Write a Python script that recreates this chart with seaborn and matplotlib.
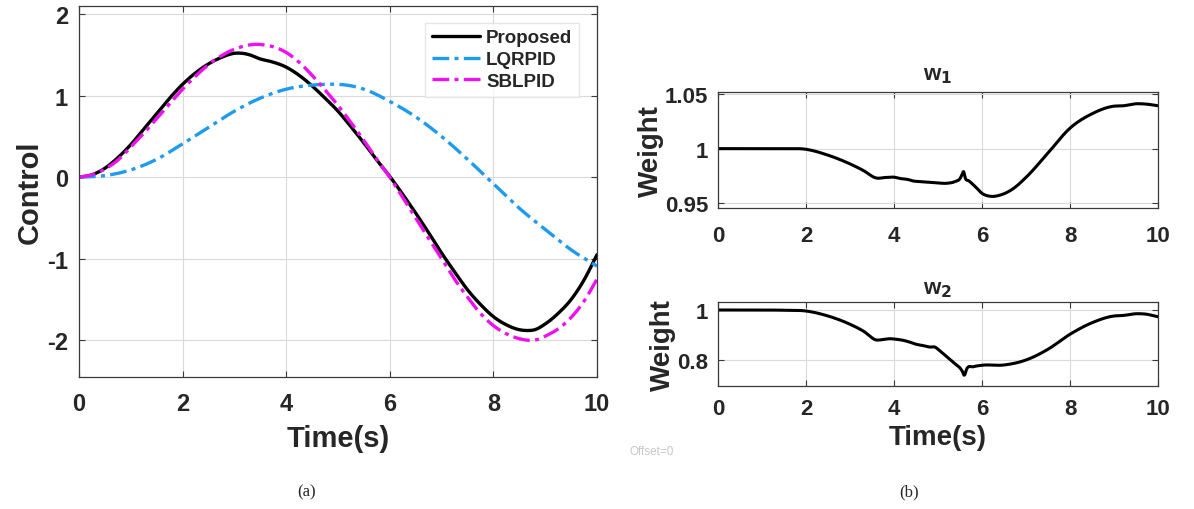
import numpy as np
import pandas as pd
import matplotlib
matplotlib.use("Agg")
import matplotlib.pyplot as plt
import seaborn as sns

# ---- control signals (left panel) ----
t_proposed = [0, 0.25, 0.5, 0.75, 1.0, 1.25, 1.5, 1.75, 2.0, 2.25, 2.5, 2.75, 3.0, 3.15, 3.3, 3.5, 3.7,
              4.0, 4.25, 4.5, 4.75, 5.0, 5.25, 5.5, 5.75, 6.0, 6.25, 6.5, 6.75, 7.0, 7.25, 7.5, 7.75,
              8.0, 8.25, 8.5, 8.65, 8.8, 9.0, 9.25, 9.5, 9.75, 10.0]
u_proposed = [0, 0.03, 0.11, 0.24, 0.40, 0.59, 0.78, 0.97, 1.14, 1.28, 1.39, 1.47, 1.52, 1.52, 1.50, 1.45, 1.42,
              1.35, 1.25, 1.12, 0.97, 0.81, 0.62, 0.42, 0.21, 0.01, -0.21, -0.44, -0.68, -0.93, -1.16, -1.38, -1.56,
              -1.71, -1.81, -1.87, -1.88, -1.87, -1.80, -1.67, -1.50, -1.26, -0.95]

t_lqr = [0, 0.5, 1.0, 1.5, 2.0, 2.5, 3.0, 3.5, 4.0, 4.5, 4.8, 5.0, 5.5, 6.0, 6.5, 7.0, 7.5,
         8.0, 8.5, 9.0, 9.5, 10.0]
u_lqr = [0, 0.02, 0.09, 0.22, 0.41, 0.61, 0.81, 0.97, 1.08, 1.13, 1.14, 1.14, 1.08, 0.93, 0.74, 0.50, 0.22,
         -0.08, -0.38, -0.64, -0.89, -1.09]

t_sbl = [0, 0.25, 0.5, 0.75, 1.0, 1.25, 1.5, 1.75, 2.0, 2.25, 2.5, 2.75, 3.0, 3.2, 3.4, 3.6, 3.8,
         4.0, 4.25, 4.5, 4.75, 5.0, 5.25, 5.5, 5.75, 6.0, 6.25, 6.5, 6.75, 7.0, 7.25, 7.5, 7.75,
         8.0, 8.25, 8.5, 8.7, 8.9, 9.0, 9.25, 9.5, 9.75, 10.0]
u_sbl = [0, 0.03, 0.10, 0.21, 0.37, 0.54, 0.72, 0.90, 1.08, 1.24, 1.38, 1.49, 1.57, 1.61, 1.63, 1.62, 1.59,
         1.53, 1.41, 1.25, 1.07, 0.88, 0.67, 0.45, 0.22, 0.0, -0.25, -0.50, -0.75, -1.0, -1.25, -1.47, -1.67,
         -1.82, -1.92, -1.98, -2.0, -1.98, -1.95, -1.86, -1.72, -1.52, -1.25]

# ---- adaptive weights (right panels) ----
t_w1 = [0, 0.5, 1.0, 1.5, 2.0, 2.5, 3.0, 3.3, 3.6, 3.8, 4.0, 4.15, 4.3, 4.45, 4.6, 4.8, 5.0, 5.2, 5.4,
        5.5, 5.55, 5.58, 5.62, 5.7, 5.85, 6.0, 6.2, 6.4, 6.7, 7.0, 7.5, 8.0, 8.5, 9.0, 9.2, 9.5, 9.7, 10.0]
w1 = [1.0, 1.0, 1.0, 1.0, 0.9994, 0.994, 0.986, 0.980, 0.9730, 0.9735, 0.9738, 0.9725, 0.9718, 0.9702,
      0.9698, 0.9692, 0.9685, 0.9682, 0.9700, 0.9725, 0.9765, 0.9790, 0.9730, 0.9705, 0.9650, 0.9590,
      0.9562, 0.9572, 0.9630, 0.9736, 0.9960, 1.0188, 1.0320, 1.0390, 1.0393, 1.0412, 1.0410, 1.0394]

t_w2 = [0, 0.5, 1.0, 1.5, 2.0, 2.5, 3.0, 3.3, 3.6, 3.75, 3.9, 4.05, 4.2, 4.35, 4.5, 4.65, 4.8, 4.95,
        5.0, 5.2, 5.4, 5.5, 5.55, 5.6, 5.65, 5.8, 6.0, 6.5, 7.0, 7.5, 8.0, 8.5, 9.0, 9.2, 9.5, 9.7, 10.0]
w2 = [1.0, 1.0, 1.0, 0.999, 0.996, 0.976, 0.943, 0.916, 0.880, 0.882, 0.885, 0.883, 0.879, 0.872, 0.863,
      0.858, 0.852, 0.850, 0.843, 0.813, 0.783, 0.768, 0.756, 0.739, 0.763, 0.773, 0.779, 0.780, 0.800,
      0.843, 0.903, 0.949, 0.976, 0.978, 0.985, 0.984, 0.973]

ctrl_labels = ["Proposed", "LQRPID", "SBLPID"]
c_black = "#000000"
c_blue = "#1E9BEF"
c_mag = "#EE10EE"

sns.set_style("ticks")
plt.rcParams["font.family"] = ["Liberation Sans", "DejaVu Sans"]
plt.rcParams["font.weight"] = "bold"
plt.rcParams["axes.labelweight"] = "bold"
plt.rcParams["axes.unicode_minus"] = False

W, H = 1194, 510
fig = plt.figure(figsize=(W / 100, H / 100), dpi=100)


def frac_axes(x0, x1, y0, y1):
    return fig.add_axes([x0 / W, 1 - y1 / H, (x1 - x0) / W, (y1 - y0) / H])


def hermite(x, y, n=500):
    """Smooth cubic Hermite curve through the sampled points."""
    x = np.asarray(x, float)
    y = np.asarray(y, float)
    tt = np.linspace(x.min(), x.max(), n)
    m = np.gradient(y, x)
    idx = np.clip(np.searchsorted(x, tt) - 1, 0, len(x) - 2)
    h = x[idx + 1] - x[idx]
    s = (tt - x[idx]) / h
    h00 = 2 * s**3 - 3 * s**2 + 1
    h10 = s**3 - 2 * s**2 + s
    h01 = -2 * s**3 + 3 * s**2
    h11 = s**3 - s**2
    yy = h00 * y[idx] + h10 * h * m[idx] + h01 * y[idx + 1] + h11 * h * m[idx + 1]
    return pd.DataFrame({"t": tt, "v": yy})


def matlab_style(ax, tick_size, xpad, ypad):
    for s in ax.spines.values():
        s.set_visible(True)
        s.set_color("#3A3A3A")
        s.set_linewidth(0.9)
    ax.grid(True, color="#DADADA", linewidth=0.8)
    ax.set_axisbelow(True)
    ax.tick_params(direction="in", top=True, right=True, length=4, width=0.8,
                   labelsize=tick_size, color="#3A3A3A")
    ax.tick_params(axis="x", pad=xpad)
    ax.tick_params(axis="y", pad=ypad)
    for lab in ax.get_xticklabels() + ax.get_yticklabels():
        lab.set_fontweight("bold")


dashdot = (0, (5, 1.6, 1.2, 1.6))

# ---- left panel: control inputs ----
ax1 = frac_axes(79, 597, 7, 378)
sns.lineplot(data=hermite(t_proposed, u_proposed), x="t", y="v", ax=ax1, color=c_black,
             linewidth=2.4, label=ctrl_labels[0], sort=False)
sns.lineplot(data=hermite(t_lqr, u_lqr), x="t", y="v", ax=ax1, color=c_blue, linewidth=2.4,
             label=ctrl_labels[1], sort=False, linestyle=dashdot)
sns.lineplot(data=hermite(t_sbl, u_sbl), x="t", y="v", ax=ax1, color=c_mag, linewidth=2.4,
             label=ctrl_labels[2], sort=False, linestyle=dashdot)
ax1.set_xlim(0, 10)
ax1.set_ylim(-2.45, 2.1)
ax1.set_xticks([0, 2, 4, 6, 8, 10])
ax1.set_yticks([-2, -1, 0, 1, 2])
ax1.set_xlabel("Time(s)", fontsize=21, fontweight="bold", labelpad=6)
ax1.set_ylabel("Control", fontsize=21, fontweight="bold", labelpad=2)
matlab_style(ax1, 17, 11, 8)
leg = ax1.legend(loc="upper right", bbox_to_anchor=(0.965, 0.955), fontsize=13.5,
                 frameon=True, fancybox=False, edgecolor="#E0E0E0", handlelength=2.6,
                 handletextpad=0.3, borderpad=0.35, labelspacing=0.25, borderaxespad=0)
for txt in leg.get_texts():
    txt.set_fontweight("bold")

# ---- right panels: weights ----
ax2 = frac_axes(718, 1158, 93, 209)
sns.lineplot(data=hermite(t_w1, w1, 800), x="t", y="v", ax=ax2, color=c_black,
             linewidth=2.2, sort=False)
ax2.set_xlim(0, 10)
ax2.set_ylim(0.9455, 1.052)
ax2.set_xticks([0, 2, 4, 6, 8, 10])
ax2.set_yticks([0.95, 1.0, 1.05])
ax2.set_yticklabels(["0.95", "1", "1.05"])
ax2.set_xlabel("")
ax2.set_ylabel("Weight", fontsize=20, fontweight="bold", labelpad=1)
ax2.set_title("w$_\\mathbf{1}$", fontsize=16, fontweight="bold", pad=9)
matlab_style(ax2, 16, 12, 7)

ax3 = frac_axes(718, 1158, 303, 387)
sns.lineplot(data=hermite(t_w2, w2, 800), x="t", y="v", ax=ax3, color=c_black,
             linewidth=2.2, sort=False)
ax3.set_xlim(0, 10)
ax3.set_ylim(0.696, 1.032)
ax3.set_xticks([0, 2, 4, 6, 8, 10])
ax3.set_yticks([0.8, 1.0])
ax3.set_yticklabels(["0.8", "1"])
ax3.set_ylabel("Weight", fontsize=20, fontweight="bold", labelpad=1)
ax3.set_xlabel("Time(s)", fontsize=20, fontweight="bold", labelpad=3)
ax3.set_title("w$_\\mathbf{2}$", fontsize=16, fontweight="bold", pad=6)
matlab_style(ax3, 16, 9, 7)

# ---- captions ----
fig.text(307 / W, 1 - 492 / H, "(a)", fontsize=12, family="Liberation Serif",
         fontweight="normal", ha="center", va="center")
fig.text(909 / W, 1 - 492 / H, "(b)", fontsize=12, family="Liberation Serif",
         fontweight="normal", ha="center", va="center")
fig.text(652 / W, 1 - 452 / H, "Offset=0", fontsize=8.5, color="#C8C8C8",
         fontweight="normal", ha="center", va="center")

fig.savefig("out.png", dpi=100)
